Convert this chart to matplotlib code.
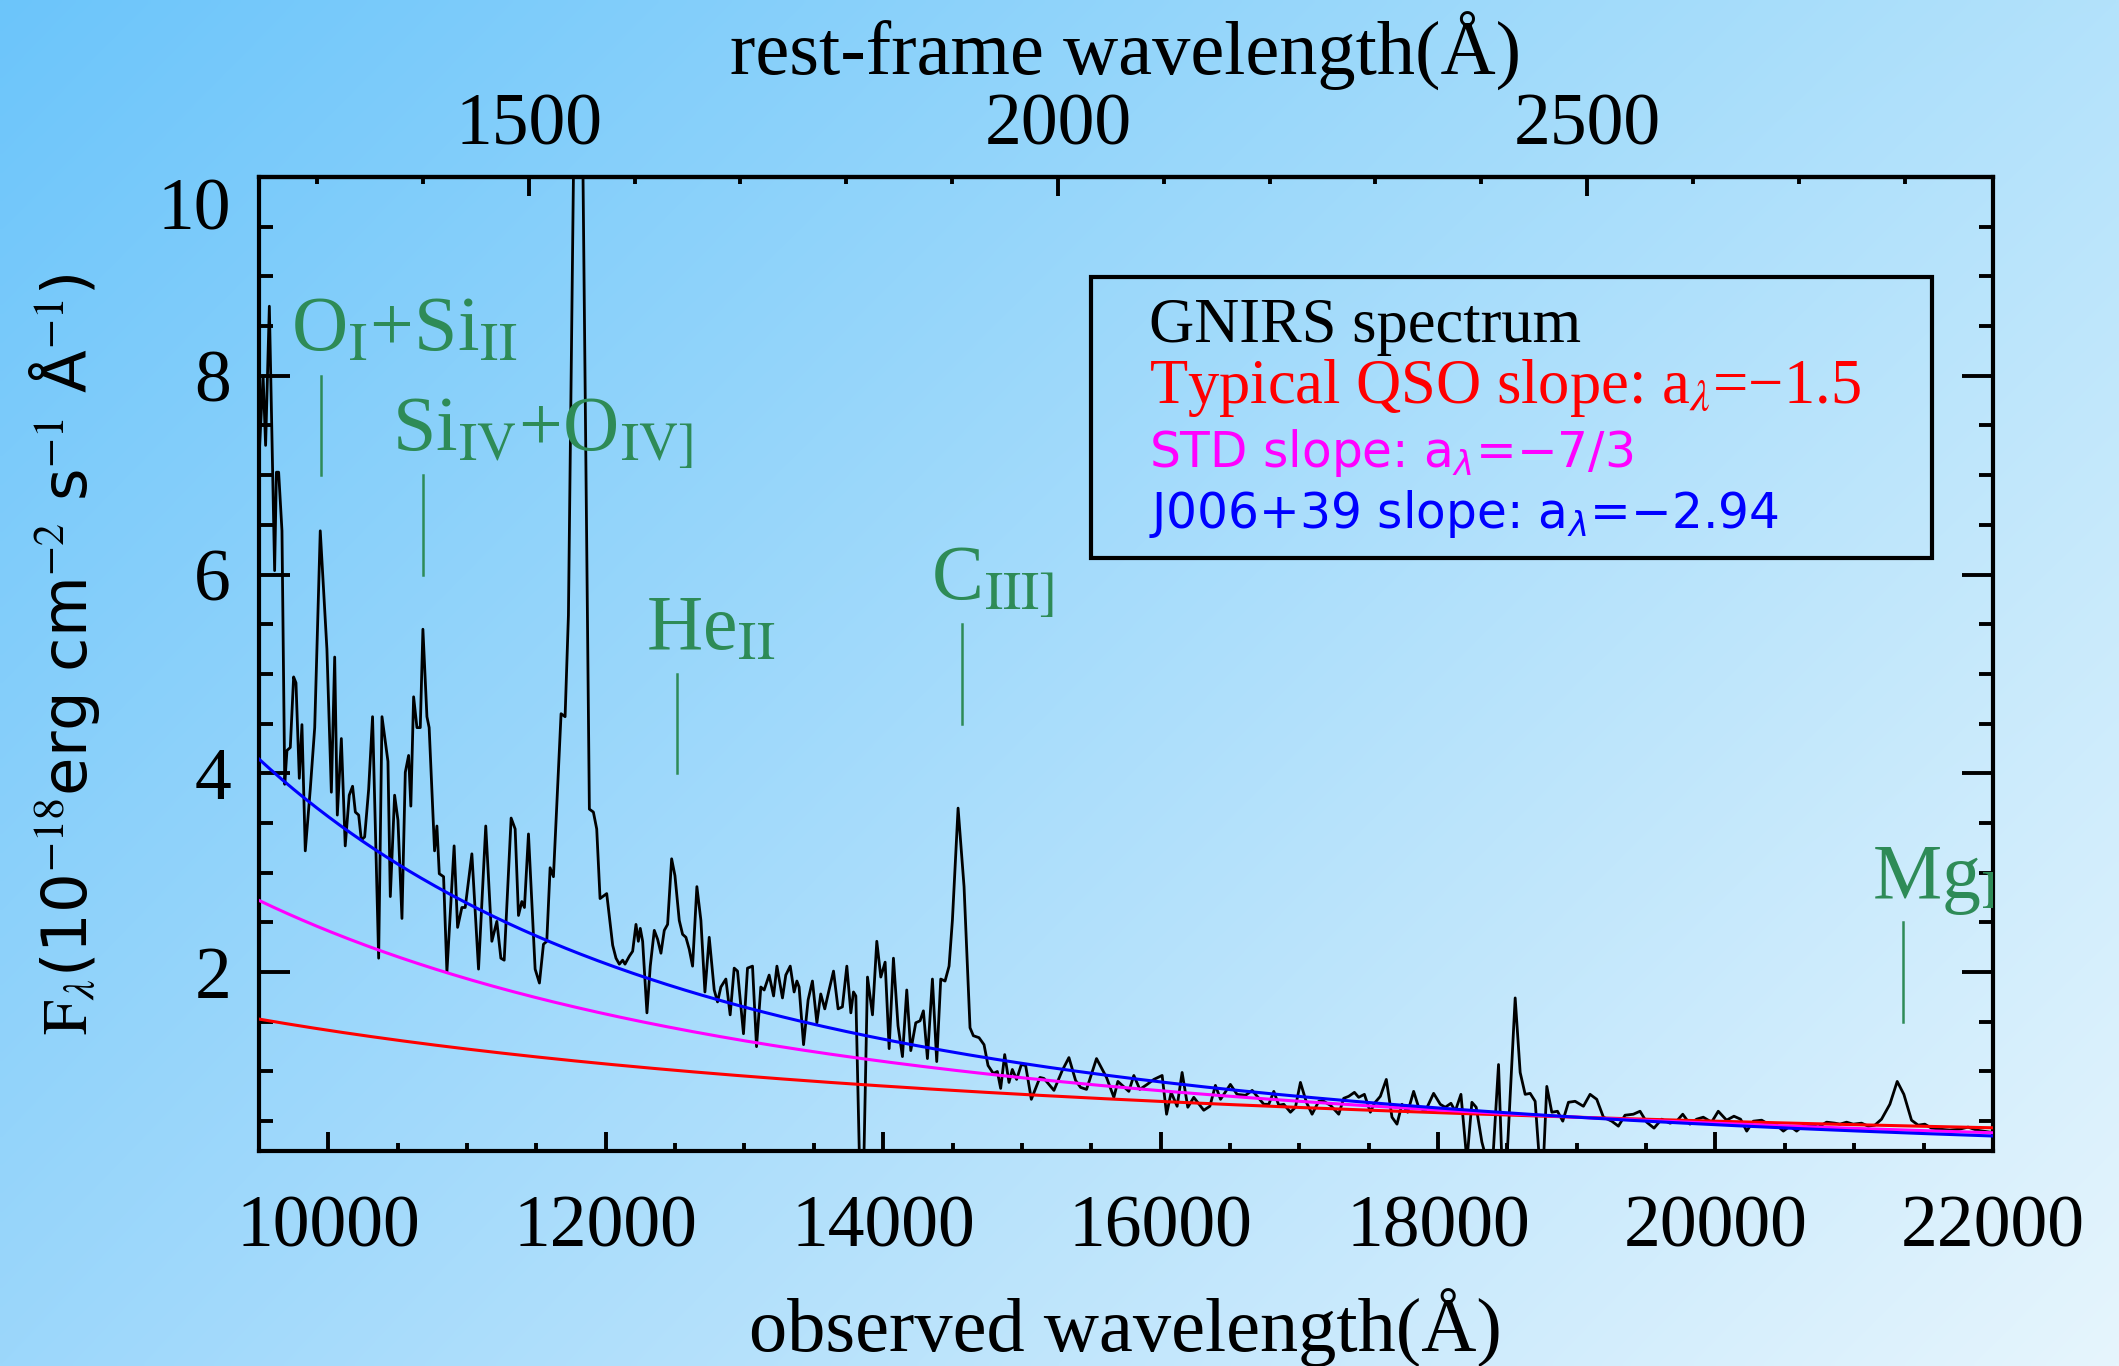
# Include libraries
import numpy as np
import matplotlib
matplotlib.use("Agg")
import matplotlib.pyplot as plt
from matplotlib.ticker import MultipleLocator, FixedLocator, FormatStrFormatter
from matplotlib.colors import to_rgb
from matplotlib.patches import Rectangle
from matplotlib.transforms import ScaledTranslation

# Redshift of the quasar (rest = observed / (1 + z))
redshift = 6.63

# GNIRS spectrum: observed wavelength (Angstrom)
wavelength = [
    9505, 9530, 9548, 9575, 9613, 9626, 9642, 9666, 9686, 9702, 9726, 9750, 9767, 9791, 9810, 9834,
    9870, 9902, 9942, 9990, 10022, 10046, 10065, 10094, 10122, 10151, 10175, 10195, 10219, 10238,
    10262, 10291, 10319, 10363, 10387, 10430, 10447, 10478, 10502, 10531, 10555, 10579, 10595, 10615,
    10639, 10663, 10682, 10711, 10727, 10766, 10783, 10800, 10831, 10855, 10907, 10932, 10963, 10987,
    11035, 11083, 11135, 11179, 11215, 11244, 11268, 11318, 11347, 11371, 11395, 11414, 11443, 11491,
    11522, 11551, 11575, 11599, 11623, 11678, 11707, 11731, 11772, 11832, 11882, 11911, 11935, 11959,
    12007, 12050, 12074, 12098, 12122, 12139, 12170, 12194, 12218, 12235, 12249, 12266, 12297, 12321,
    12350, 12374, 12398, 12422, 12446, 12475, 12499, 12530, 12554, 12578, 12602, 12626, 12657, 12686,
    12715, 12746, 12782, 12806, 12830, 12866, 12897, 12926, 12950, 12993, 13022, 13058, 13087, 13118,
    13142, 13178, 13210, 13234, 13274, 13298, 13330, 13358, 13378, 13394, 13426, 13459, 13490, 13522,
    13550, 13579, 13610, 13642, 13675, 13706, 13738, 13767, 13786, 13803, 13830, 13860, 13887, 13923,
    13954, 13983, 14014, 14043, 14074, 14107, 14139, 14170, 14199, 14235, 14266, 14290, 14319, 14355,
    14386, 14415, 14446, 14475, 14499, 14540, 14583, 14626, 14650, 14691, 14727, 14756, 14794, 14823,
    14847, 14876, 14907, 14931, 14962, 14996, 15027, 15068, 15130, 15159, 15231, 15291, 15339, 15387,
    15423, 15466, 15538, 15610, 15663, 15692, 15771, 15807, 15850, 15903, 15951, 16011, 16043, 16076,
    16119, 16155, 16196, 16239, 16311, 16355, 16395, 16432, 16503, 16551, 16612, 16660, 16744, 16780,
    16816, 16852, 16888, 16936, 16972, 17008, 17051, 17092, 17140, 17176, 17224, 17284, 17320, 17356,
    17397, 17428, 17469, 17512, 17541, 17584, 17627, 17668, 17704, 17740, 17781, 17824, 17860, 17908,
    17968, 18016, 18052, 18093, 18124, 18165, 18208, 18244, 18275, 18316, 18352, 18395, 18436, 18460,
    18496, 18520, 18556, 18592, 18628, 18664, 18700, 18731, 18760, 18784, 18820, 18861, 18899, 18940,
    18988, 19048, 19096, 19144, 19192, 19252, 19300, 19348, 19408, 19456, 19504, 19557, 19612, 19672,
    19720, 19764, 19816, 19864, 19912, 19972, 20020, 20080, 20133, 20181, 20225, 20273, 20333, 20381,
    20441, 20489, 20537, 20585, 20645, 20693, 20741, 20801, 20861, 20897, 20945, 20993, 21053, 21101,
    21149, 21197, 21257, 21310, 21358, 21413, 21461, 21509, 21557, 21617, 21689, 21761, 21821, 21881,
    21929, 21977,
]

# GNIRS spectrum: flux density (1e-18 erg/cm^2/s/A)
flux = [
    7.30, 8.00, 7.30, 8.70, 6.04, 7.03, 7.03, 6.44, 3.89, 4.23, 4.26, 4.97, 4.91, 3.95, 4.49, 3.22,
    3.84, 4.46, 6.44, 5.25, 3.81, 5.17, 3.58, 4.35, 3.27, 3.78, 3.87, 3.61, 3.58, 3.33,
    3.36, 3.84, 4.57, 2.14, 4.57, 4.12, 2.76, 3.78, 3.53, 2.54, 4.01, 4.18, 3.67, 4.77,
    4.46, 4.46, 5.45, 4.57, 4.46, 3.22, 3.47, 2.99, 2.96, 2.00, 3.27, 2.45, 2.65, 2.65,
    3.19, 2.03, 3.47, 2.31, 2.51, 2.14, 2.12, 3.55, 3.44, 2.57, 2.71, 2.65, 3.39, 2.03,
    1.89, 2.28, 2.31, 3.05, 2.96, 4.60, 4.57, 5.59, 10.6, 10.6, 3.64, 3.61, 3.44, 2.74,
    2.79, 2.27, 2.14, 2.08, 2.12, 2.08, 2.16, 2.21, 2.48, 2.31, 2.44, 2.31, 1.59, 2.06,
    2.42, 2.33, 2.19, 2.42, 2.48, 3.14, 2.97, 2.52, 2.38, 2.35, 2.23, 2.06, 2.86, 2.52,
    1.80, 2.35, 1.82, 1.70, 1.85, 1.93, 1.57, 2.04, 2.01, 1.38, 2.04, 2.06, 1.25, 1.85,
    1.82, 1.97, 1.76, 2.06, 1.74, 1.97, 2.06, 1.80, 1.91, 1.85, 1.27, 1.72, 1.91, 1.49,
    1.78, 1.63, 1.82, 2.01, 1.63, 1.65, 2.06, 1.59, 1.80, 1.76, 0.05, 0.05, 1.95, 1.57,
    2.31, 1.95, 2.10, 1.23, 2.14, 1.46, 1.15, 1.82, 1.21, 1.49, 1.51, 1.61, 1.13, 1.93,
    1.10, 1.93, 1.91, 2.06, 2.52, 3.65, 2.86, 1.44, 1.36, 1.34, 1.27, 1.06, 0.98, 1.00,
    0.83, 1.17, 0.89, 1.02, 0.92, 1.07, 1.06, 0.72, 0.94, 0.93, 0.81, 1.01, 1.14, 0.91,
    0.84, 0.82, 1.13, 0.94, 0.74, 0.90, 0.80, 0.96, 0.82, 0.87, 0.92, 0.96, 0.57, 0.79,
    0.65, 0.99, 0.64, 0.74, 0.61, 0.65, 0.86, 0.72, 0.87, 0.77, 0.76, 0.81, 0.67, 0.67,
    0.80, 0.66, 0.67, 0.59, 0.64, 0.89, 0.69, 0.57, 0.70, 0.70, 0.66, 0.57, 0.73, 0.75,
    0.79, 0.74, 0.77, 0.59, 0.68, 0.75, 0.92, 0.54, 0.47, 0.67, 0.59, 0.80, 0.64, 0.60,
    0.78, 0.67, 0.64, 0.68, 0.60, 0.77, 0.10, 0.69, 0.64, 0.29, 0.10, 0.12, 1.07, 0.10,
    0.10, 0.76, 1.74, 0.99, 0.77, 0.78, 0.70, 0.10, 0.10, 0.85, 0.59, 0.60, 0.50, 0.69,
    0.70, 0.65, 0.77, 0.72, 0.54, 0.50, 0.45, 0.56, 0.57, 0.60, 0.49, 0.43, 0.52, 0.48,
    0.50, 0.57, 0.47, 0.52, 0.54, 0.49, 0.60, 0.51, 0.55, 0.52, 0.40, 0.50, 0.51, 0.47,
    0.46, 0.40, 0.45, 0.40, 0.47, 0.46, 0.44, 0.49, 0.48, 0.47, 0.49, 0.47, 0.48, 0.45,
    0.46, 0.52, 0.67, 0.90, 0.77, 0.51, 0.46, 0.47, 0.43, 0.42, 0.41, 0.42, 0.44, 0.41,
    0.40, 0.39,
]

# Power-law continua F ~ lambda^slope, all pinned at the same point
slopes = [-1.5, -7 / 3, -2.94]
slopeColors = ["red", "magenta", "blue"]
normWavelength = 19000
normFlux = 0.54

# Legend text
legendLabels = [
    "GNIRS spectrum",
    "Typical QSO slope: a$_\\lambda$=\u22121.5",
    "STD slope: a$_\\lambda$=\u22127/3",
    "J006+39 slope: a$_\\lambda$=\u22122.94",
]
legendColors = ["black", "red", "magenta", "blue"]

# Emission lines: labels, rest wavelengths and marker extent in flux
lineLabels = [r"O$_{\rm I}$+Si$_{\rm II}$", r"Si$_{\rm IV}$+O$_{\rm IV]}$",
              r"He$_{\rm II}$", r"C$_{\rm III]}$", r"Mg$_{\rm II}$"]
lineRest = [1304, 1400, 1640, 1909, 2798]
lineLow = [7.0, 6.0, 4.0, 4.5, 1.5]
lineHigh = [8.0, 7.0, 5.0, 5.5, 2.5]

# Rest-frame axis ticks
restMajor = [1500, 2000, 2500]
restMinor = list(range(1300, 2900, 100))

lineGreen = "#2e8b57"


# Convert observed to rest-frame wavelength and back
def toRest(x):
    return np.asarray(x) / (1 + redshift)


def toObserved(x):
    return np.asarray(x) * (1 + redshift)


# Blue diagonal gradient behind everything
def drawBackground(fig):
    topLeft = np.array(to_rgb("#6cc5fa"))
    topRight = np.array(to_rgb("#b3e2fb"))
    bottomLeft = np.array(to_rgb("#9cd7fb"))
    bottomRight = np.array(to_rgb("#e6f5fd"))

    u = np.linspace(0, 1, 400)[None, :, None]
    v = np.linspace(0, 1, 260)[:, None, None]
    image = (1 - v) * ((1 - u) * topLeft + u * topRight) + v * ((1 - u) * bottomLeft + u * bottomRight)

    bg = fig.add_axes([0, 0, 1, 1], zorder=-10)
    bg.imshow(image, aspect="auto", interpolation="bilinear")
    bg.axis("off")


# Plot spectrum, continua, line markers and axes
def plotSpectrum():
    plt.rcParams["font.family"] = ["Liberation Serif", "DejaVu Serif"]
    plt.rcParams["mathtext.fontset"] = "stix"

    fig = plt.figure(figsize=(21.19, 13.66), dpi=100)
    drawBackground(fig)

    ax = fig.add_axes([0.1222, 0.1574, 0.8183, 0.7130])
    ax.set_facecolor("none")

    # Spectrum
    ax.plot(wavelength, flux, color="black", lw=2.0, zorder=3)

    # Power-law continua
    grid = np.linspace(9500, 22000, 600)
    for slope, color in zip(slopes, slopeColors):
        model = normFlux * (grid / normWavelength) ** slope
        ax.plot(grid, model, color=color, lw=2.2, zorder=4)

    # Emission line markers
    for label, rest, low, high in zip(lineLabels, lineRest, lineLow, lineHigh):
        obs = rest * (1 + redshift)
        ax.plot([obs, obs], [low, high], color=lineGreen, lw=1.8, zorder=3)
        ax.text(obs - 220, high + 0.25, label, color=lineGreen, fontsize=56,
                ha="left", va="baseline", clip_on=True, zorder=3)

    ax.set_xlim(9500, 22000)
    ax.set_ylim(0.2, 10)

    # Ticks and spines
    ax.xaxis.set_major_locator(MultipleLocator(2000))
    ax.xaxis.set_minor_locator(MultipleLocator(500))
    ax.xaxis.set_major_formatter(FormatStrFormatter("%d"))
    ax.yaxis.set_major_locator(MultipleLocator(2))
    ax.yaxis.set_minor_locator(MultipleLocator(0.5))
    ax.yaxis.set_major_formatter(FormatStrFormatter("%d"))

    ax.tick_params(axis="y", which="major", direction="in", length=22, width=2.8,
                   left=True, right=True, labelsize=53, pad=20)
    ax.tick_params(axis="y", which="minor", direction="in", length=10, width=2.8,
                   left=True, right=True)
    ax.tick_params(axis="x", which="major", direction="in", length=14, width=2.8,
                   top=False, bottom=True, labelsize=53, pad=32)
    ax.tick_params(axis="x", which="minor", direction="in", length=6, width=2.8,
                   top=False, bottom=True)
    for spine in ax.spines.values():
        spine.set_linewidth(3.0)

    # Rest-frame axis on top
    secax = ax.secondary_xaxis("top", functions=(toRest, toObserved))
    secax.xaxis.set_major_locator(FixedLocator(restMajor))
    secax.xaxis.set_minor_locator(FixedLocator(restMinor))
    secax.xaxis.set_major_formatter(FormatStrFormatter("%d"))
    secax.tick_params(which="major", direction="in", length=14, width=2.8, labelsize=53, pad=12)
    secax.tick_params(which="minor", direction="in", length=5, width=2.8)
    secax.spines["top"].set_linewidth(3.0)

    # Axis labels
    ax.set_xlabel("observed wavelength(\u00c5)", fontsize=55, va="center")
    ax.xaxis.set_label_coords(0.5, -0.182)
    ax.text(0.5, 1.129, "rest-frame wavelength(\u00c5)", transform=ax.transAxes,
            fontsize=55, ha="center", va="center")
    ax.set_ylabel(r"$\mathrm{F}_\lambda$(10$^{-18}$erg cm$^{-2}$ s$^{-1}$ Å$^{-1}$)",
                  family="DejaVu Sans", fontsize=45, math_fontfamily="stix",
                  va="center", ha="center")
    ax.yaxis.set_label_coords(-0.112, 0.51)

    # Legend box with coloured text
    ax.add_patch(Rectangle((0.480, 0.609), 0.485, 0.288, transform=ax.transAxes,
                           fill=False, lw=3.0, edgecolor="black", zorder=5))
    rowY = [0.8306, 0.768, 0.7023, 0.6396]
    for i, (text, color) in enumerate(zip(legendLabels, legendColors)):
        if i < 2:
            ax.text(0.5133, rowY[i], text, color=color, transform=ax.transAxes,
                    fontsize=45, va="baseline", ha="left", zorder=6)
        else:
            ax.text(0.5133, rowY[i], text, color=color, transform=ax.transAxes,
                    family="DejaVu Sans", math_fontfamily="dejavusans",
                    fontsize=35, va="baseline", ha="left", zorder=6)

    # Nudge the top "10" label down so it sits inside the frame height
    fig.canvas.draw()
    for tick in ax.yaxis.get_major_ticks():
        if abs(tick.get_loc() - 10) < 1e-6:
            shift = ScaledTranslation(0, -19 / 72, fig.dpi_scale_trans)
            tick.label1.set_transform(tick.label1.get_transform() + shift)

    fig.savefig("out.png", dpi=100)


# Main function
def main():
    plotSpectrum()


main()
